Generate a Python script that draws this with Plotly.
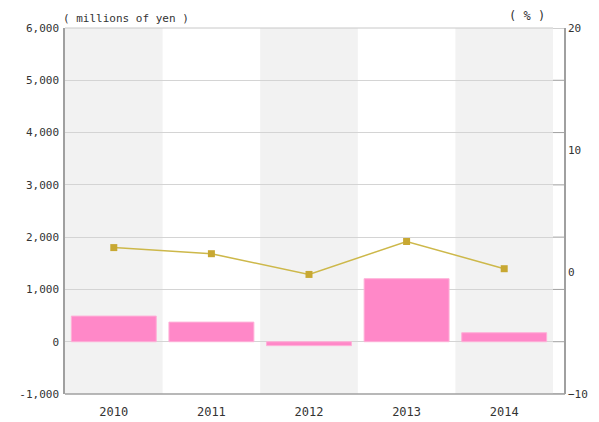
import plotly.graph_objects as go

years = ["2010", "2011", "2012", "2013", "2014"]
sales = [490, 375, -75, 1205, 172]          # millions of yen (bars, left axis)
pct = [2.0, 1.5, -0.2, 2.5, 0.27]           # % (line, right axis)
left_ticks = [-1000, 0, 1000, 2000, 3000, 4000, 5000, 6000]
left_labels = ["-1,000", "0", "1,000", "2,000", "3,000", "4,000", "5,000", "6,000"]
right_ticks = [-10, 0, 10, 20]

xs = list(range(len(years)))
font = dict(family="DejaVu Sans Mono, monospace", size=11, color="#333333")

OFF = 8  # page body margin
L, R_PLOT, R_AX, T, B = 65 - OFF, 553 - OFF, 565 - OFF, 28 - OFF, 394 - OFF
W, H = 599 - OFF, 422 - OFF
dom_end = (R_PLOT - L) / (R_AX - L)

fig = go.Figure()
fig.add_trace(go.Bar(x=xs, y=sales, width=0.87,
                     marker=dict(color="#ff88c8", line=dict(color="#ffb0d8", width=1)),
                     yaxis="y"))
fig.add_trace(go.Scatter(x=xs, y=pct, mode="lines+markers", yaxis="y2",
                         line=dict(color="#cdb84a", width=1.5),
                         marker=dict(symbol="square", size=7, color="#c8a832")))

shapes = []
for i in range(0, len(years), 2):
    shapes.append(dict(type="rect", xref="x", yref="paper", x0=i - 0.5, x1=i + 0.5,
                       y0=0, y1=1, fillcolor="#f2f2f2", line=dict(width=0), layer="below"))
# top border
shapes.append(dict(type="line", xref="paper", yref="paper", x0=0, x1=dom_end, y0=1, y1=1,
                   line=dict(color="#c8c8c8", width=1)))
# bottom line extended to right axis
shapes.append(dict(type="line", xref="paper", yref="paper", x0=0, x1=1,
                   y0=0, y1=0, line=dict(color="#a0a0a0", width=1.5)))
# right-axis tick marks at left gridline positions
for t in left_ticks:
    shapes.append(dict(type="line", xref="paper", yref="y", x0=dom_end, x1=1,
                       y0=t, y1=t, line=dict(color="#a0a0a0", width=1)))

fig.update_layout(
    width=W, height=H,
    margin=dict(l=L, r=W - R_AX, t=T, b=H - B),
    paper_bgcolor="white", plot_bgcolor="white",
    showlegend=False, font=font, shapes=shapes,
    xaxis=dict(domain=[0, dom_end], range=[-0.5, 4.5], tickvals=xs, ticktext=years,
               showgrid=False, zeroline=False, showline=False, ticks="",
               ticklabelstandoff=9, tickfont=dict(font, size=12), automargin=False),
    yaxis=dict(range=[-1000, 6000], tickvals=left_ticks, ticktext=left_labels,
               showgrid=True, gridcolor="#d4d4d4", gridwidth=1, zeroline=False,
               showline=True, linecolor="#a0a0a0", linewidth=1.5, ticks="",
               ticklabelstandoff=2, tickfont=font, automargin=False),
    yaxis2=dict(range=[-10, 20], tickvals=right_ticks, overlaying="y", side="right",
                anchor="free", position=1.0, showgrid=False,
                zeroline=False, showline=True, linecolor="#a0a0a0", linewidth=1.5,
                ticks="", tickfont=font, automargin=False),
    annotations=[
        dict(text="( millions of yen )", xref="paper", yref="paper",
             x=0, y=1, xanchor="left", yanchor="bottom", yshift=1, xshift=-4,
             showarrow=False, font=font),
        dict(text="( % )", x=(527 - OFF - L) / (R_AX - L), xref="paper", yref="paper",
             y=1, xanchor="center", yanchor="bottom", yshift=3, showarrow=False,
             font=dict(font, size=12)),
    ],
)

fig.write_html("out.html")
